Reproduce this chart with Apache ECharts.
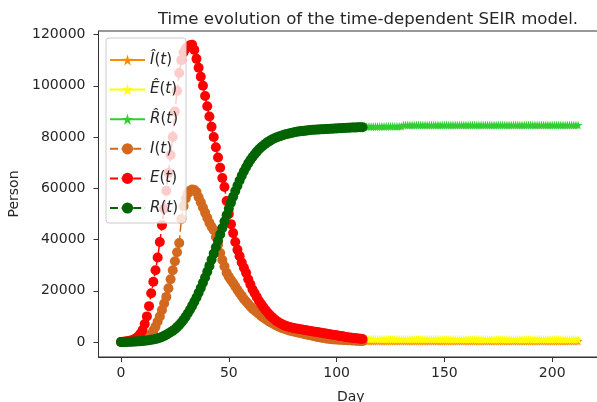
<!DOCTYPE html>
<html>
<head>
<meta charset="utf-8">
<script src="https://cdn.jsdelivr.net/npm/echarts@6/dist/echarts.min.js"></script>
<style>
  html, body { margin: 0; padding: 0; background: #fff; }
  #chart { width: 597px; height: 402px; }
</style>
</head>
<body>
<div id="chart"></div>
<script>
// observed curves, one value per day from day 0
const iObserved = [
  0, 0, 100, 100, 200, 300, 400, 500, 700, 900,
  1100, 1400, 1700, 2000, 3000, 4500, 6000, 8000, 10000, 12500,
  15000, 17600, 21000, 24500, 28000, 31500, 35000, 38600, 48000, 53000,
  56000, 58000, 59000, 59500, 59300, 58500, 56500, 54500, 52500, 50500,
  48500, 46500, 45000, 43700, 41000, 38000, 34700, 32000, 29500, 27000,
  25500, 24200, 23000, 21700, 20400, 19100, 18000, 16800, 15800, 14800,
  13900, 13000, 12300, 11600, 10900, 10200, 9600, 9000, 8400, 7900,
  7400, 6900, 6500, 6100, 5700, 5400, 5100, 4800, 4500, 4300,
  4100, 3900, 3700, 3500, 3300, 3100, 2900, 2700, 2600, 2400,
  2200, 2000, 1850, 1700, 1550, 1400, 1300, 1200, 1100, 1000,
  950, 900, 850, 800, 750, 700, 650, 600, 550, 500,
  450, 400, 350
];
const eObserved = [
  0, 100, 200, 300, 500, 700, 1000, 1500, 2200, 3200,
  4700, 7000, 10000, 14000, 19000, 23500, 28000, 33000, 39000, 45600,
  52000, 59000, 66000, 73000, 80000, 90000, 98000, 105000, 110000, 113000,
  114500, 115300, 115800, 116000, 114000, 110500, 107000, 103500, 100000, 96000,
  92000, 88000, 84000, 80000, 76000, 72000, 68000, 64000, 60500, 55000,
  50000, 46000, 42500, 39000, 36000, 33500, 31000, 29000, 27000, 24500,
  22500, 20500, 19000, 17500, 16000, 14800, 13600, 12500, 11500, 10500,
  9700, 9000, 8300, 7700, 7200, 6800, 6400, 6100, 5900, 5700,
  5500, 5300, 5200, 5000, 4900, 4700, 4600, 4400, 4300, 4100,
  4000, 3900, 3700, 3600, 3400, 3300, 3100, 3000, 2800, 2700,
  2600, 2400, 2300, 2200, 2000, 1900, 1800, 1700, 1600, 1500,
  1400, 1300, 1200
];
const rObserved = [
  0, 0, 0, 50, 100, 100, 150, 200, 250, 300,
  400, 500, 600, 700, 850, 1000, 1200, 1400, 1700, 2000,
  2400, 2800, 3300, 3800, 4400, 5000, 5800, 6600, 7600, 8700,
  9900, 11200, 12600, 14100, 15700, 17400, 19200, 21100, 23100, 25200,
  27400, 29700, 32100, 34500, 37000, 39500, 42000, 44500, 47000, 49500,
  52000, 54400, 56700, 58900, 61000, 63000, 64900, 66600, 68200, 69700,
  71000, 72200, 73300, 74300, 75200, 76000, 76700, 77400, 78000, 78500,
  79000, 79400, 79800, 80100, 80400, 80700, 81000, 81200, 81400, 81600,
  81800, 82000, 82100, 82200, 82300, 82400, 82500, 82600, 82700, 82800,
  82850, 82900, 82950, 83000, 83050, 83100, 83150, 83200, 83250, 83300,
  83350, 83400, 83450, 83500, 83550, 83600, 83650, 83700, 83700, 83750,
  83800, 83800, 83850
];

// model curves, one value per day from hatStartDay
const hatStartDay = 112;
const iHat = [
  420, 415, 410, 405, 400, 400, 395, 395, 390, 390,
  390, 385, 385, 385, 380, 380, 380, 380, 375, 375,
  375, 375, 375, 370, 370, 370, 370, 370, 370, 365,
  365, 365, 365, 365, 365, 365, 360, 360, 360, 360,
  360, 360, 360, 360, 360, 360, 355, 355, 355, 355,
  355, 355, 355, 355, 355, 355, 355, 355, 350, 350,
  350, 350, 350, 350, 350, 350, 350, 350, 350, 350,
  350, 350, 350, 350, 350, 350, 350, 350, 350, 350,
  350, 350, 350, 350, 350, 350, 350, 350, 350, 350,
  350, 350, 350, 350, 350, 350, 350, 350, 350, 350,
  350
];
const eHat = [
  1150, 1150, 1140, 1140, 1130, 1130, 1120, 1120, 1110, 1110,
  1100, 1100, 1100, 1090, 1090, 1090, 1080, 1080, 1080, 1070,
  1070, 1070, 1060, 1060, 1060, 1050, 1050, 1050, 1050, 1040,
  1040, 1040, 1040, 1030, 1030, 1030, 1030, 1020, 1020, 1020,
  1020, 1020, 1010, 1010, 1010, 1010, 1010, 1000, 1000, 1000,
  1000, 1000, 1000, 990, 990, 990, 990, 990, 990, 990,
  980, 980, 980, 980, 980, 980, 980, 980, 970, 970,
  970, 970, 970, 970, 970, 970, 970, 960, 960, 960,
  960, 960, 960, 960, 960, 960, 960, 950, 950, 950,
  950, 950, 950, 950, 950, 950, 950, 950, 950, 950,
  950
];
const rHat = [
  84000, 84020, 84040, 84060, 84080, 84100, 84100, 84120, 84120, 84140,
  84140, 84160, 84160, 84180, 84180, 84200, 84200, 84200, 84200, 84700,
  84700, 84700, 84700, 84700, 84700, 84700, 84700, 84700, 84700, 84700,
  84700, 84700, 84700, 84700, 84700, 84700, 84700, 84700, 84700, 84700,
  84700, 84700, 84700, 84700, 84700, 84700, 84700, 84700, 84700, 84700,
  84700, 84700, 84700, 84700, 84700, 84700, 84700, 84700, 84700, 84700,
  84700, 84700, 84700, 84700, 84700, 84700, 84700, 84700, 84700, 84700,
  84700, 84700, 84700, 84700, 84700, 84700, 84700, 84700, 84700, 84700,
  84700, 84700, 84700, 84700, 84700, 84700, 84700, 84700, 84700, 84700,
  84700, 84700, 84700, 84700, 84700, 84700, 84700, 84700, 84700, 84700,
  84700
];

const xTicks = [0, 50, 100, 150, 200];
const yTicks = [0, 20000, 40000, 60000, 80000, 100000, 120000];

const STAR = "path://M50,0 L61,35 L98,35 L68,57 L79,91 L50,70 L21,91 L32,57 L2,35 L39,35 Z";
const FONT = "DejaVu Sans";
const INK = "#262626";

const seriesDefs = [
  { name: "I\u0302(t)", data: iHat, start: hatStartDay, color: "#ff8c00", hat: true },
  { name: "E\u0302(t)", data: eHat, start: hatStartDay, color: "#ffff00", hat: true },
  { name: "R\u0302(t)", data: rHat, start: hatStartDay, color: "#32cd32", hat: true },
  { name: "I(t)", data: iObserved, start: 0, color: "#d2691e", hat: false },
  { name: "E(t)", data: eObserved, start: 0, color: "#ff0000", hat: false },
  { name: "R(t)", data: rObserved, start: 0, color: "#006400", hat: false },
];

function legendLabel(name) {
  const letter = name.slice(0, name.indexOf("("));
  return "{it|" + letter + "}{up|(}{it|t}{up|)}";
}

const chart = echarts.init(document.getElementById("chart"), null, { renderer: "canvas" });

chart.setOption({
  animation: false,
  backgroundColor: "#ffffff",
  textStyle: { fontFamily: FONT, color: INK },
  title: {
    text: "Time evolution of the time-dependent SEIR model.",
    left: 363,
    top: 6,
    textAlign: "center",
    textStyle: { fontFamily: FONT, fontSize: 16.6, fontWeight: "normal", color: INK },
  },
  grid: {
    left: 98.5,
    top: 31,
    width: 504.6,
    height: 326,
    show: true,
    borderColor: "#333",
    borderWidth: 1,
    containLabel: false,
    outerBoundsMode: "none",
  },
  legend: {
    left: 106,
    top: 38,
    orient: "vertical",
    itemWidth: 35,
    itemHeight: 14,
    itemGap: 13.6,
    padding: [14, 8, 7, 3],
    backgroundColor: "rgba(255,255,255,0.8)",
    borderColor: "#cccccc",
    borderWidth: 1,
    borderRadius: 3,
    formatter: legendLabel,
    textStyle: {
      fontFamily: FONT,
      fontSize: 15,
      color: INK,
      lineHeight: 16,
      rich: {
        it: { fontStyle: "italic", fontFamily: FONT, fontSize: 15, color: INK },
        up: { fontFamily: FONT, fontSize: 15, color: INK },
      },
    },
    data: seriesDefs.map((s) => s.name),
  },
  xAxis: {
    type: "value",
    min: -10.44,
    max: 223.6,
    name: "Day",
    nameLocation: "middle",
    nameGap: 33,
    nameTextStyle: { fontFamily: FONT, fontSize: 14, color: INK },
    axisLine: { onZero: false, lineStyle: { color: "#333", width: 1 } },
    axisTick: { customValues: xTicks, length: 5, lineStyle: { color: "#333" } },
    axisLabel: {
      customValues: xTicks,
      margin: 9,
      fontFamily: FONT,
      fontSize: 14,
      color: INK,
      formatter: (v) => String(v),
    },
    splitLine: { show: false },
  },
  yAxis: {
    type: "value",
    min: -5853,
    max: 121366,
    name: "Person",
    nameLocation: "middle",
    nameGap: 74,
    nameRotate: 90,
    nameTextStyle: { fontFamily: FONT, fontSize: 14, color: INK },
    axisLine: { onZero: false, lineStyle: { color: "#333", width: 1 } },
    axisTick: { customValues: yTicks, length: 5, lineStyle: { color: "#333" } },
    axisLabel: {
      customValues: yTicks,
      margin: 13,
      fontFamily: FONT,
      fontSize: 14,
      color: INK,
      formatter: (v) => String(v),
    },
    splitLine: { show: false },
  },
  series: seriesDefs.map((s) => ({
    name: s.name,
    type: "line",
    data: s.data.map((v, i) => [s.start + i, v]),
    color: s.color,
    symbol: s.hat ? STAR : "circle",
    symbolSize: s.hat ? 9 : 10,
    showSymbol: true,
    showAllSymbol: true,
    itemStyle: { color: s.color, borderWidth: 0 },
    lineStyle: { color: s.color, width: 1.5, type: s.hat ? "solid" : [8, 3.6] },
    emphasis: { disabled: true },
    clip: true,
  })),
});
</script>
</body>
</html>
